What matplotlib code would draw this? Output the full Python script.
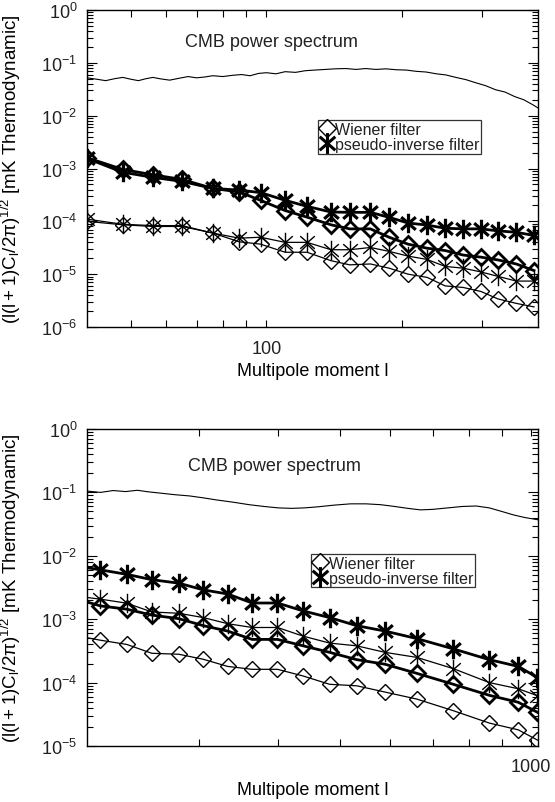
import numpy as np
import matplotlib
matplotlib.use('Agg')
import matplotlib.pyplot as plt
from matplotlib.path import Path
from matplotlib.lines import Line2D
from matplotlib.ticker import FixedLocator, NullFormatter, FuncFormatter, LogLocator

plt.rcParams['font.family'] = ['Liberation Sans', 'DejaVu Sans']
plt.rcParams['mathtext.fontset'] = 'custom'
plt.rcParams['mathtext.rm'] = 'Liberation Sans'
plt.rcParams['mathtext.it'] = 'Liberation Sans'
plt.rcParams['mathtext.bf'] = 'Liberation Sans:bold'
plt.rcParams['text.color'] = '#222222'

# ---- top panel data (multipole l 40..400) ----
l_top = [40, 48, 56, 65, 76, 87, 97, 110, 123, 139, 153, 170, 187, 206, 227, 249, 273, 299, 326, 358, 392]
pinv_thick_top = [1.55e-3, 8.5e-4, 6.8e-4, 5.7e-4, 4.2e-4, 3.9e-4, 3.5e-4, 2.5e-4, 1.92e-4, 1.5e-4, 1.48e-4,
                  1.48e-4, 1.19e-4, 9.3e-5, 8.5e-5, 7.4e-5, 7.2e-5, 7.2e-5, 6.6e-5, 6.2e-5, 5.4e-5]
wiener_thick_top = [1.6e-3, 9.6e-4, 7.6e-4, 6.2e-4, 4.2e-4, 3.6e-4, 2.5e-4, 1.6e-4, 1.2e-4, 8.6e-5, 7.2e-5,
                    7.2e-5, 5.0e-5, 3.7e-5, 3.1e-5, 2.8e-5, 2.3e-5, 2.1e-5, 1.86e-5, 1.56e-5, 1.17e-5]
pinv_thin_top = [1.1e-4, 8.8e-5, 8.3e-5, 8.3e-5, 6.0e-5, 4.8e-5, 5.0e-5, 4.0e-5, 4.0e-5, 2.9e-5, 2.9e-5,
                 3.2e-5, 2.7e-5, 2.2e-5, 1.9e-5, 1.4e-5, 1.3e-5, 1.1e-5, 9.1e-6, 7.4e-6, 7.4e-6]
wiener_thin_top = [1.0e-4, 8.6e-5, 8.0e-5, 8.0e-5, 6.0e-5, 4.1e-5, 3.7e-5, 2.6e-5, 2.6e-5, 1.8e-5, 1.5e-5,
                   1.56e-5, 1.3e-5, 1.0e-5, 8.7e-6, 6.0e-6, 5.6e-6, 4.7e-6, 3.4e-6, 2.8e-6, 2.4e-6]

cmb_l_top = [40, 42, 44, 46, 48, 50, 52, 54, 56, 58, 61, 64, 67, 70, 73, 76, 80, 84, 88, 92, 96, 100, 105, 110,
             116, 122, 128, 135, 142, 150, 158, 166, 175, 184, 194, 204, 215, 226, 238, 250, 263, 277, 291, 306,
             322, 338, 355, 372, 390, 400]
cmb_top = [0.052, 0.049, 0.046, 0.050, 0.053, 0.049, 0.046, 0.050, 0.053, 0.050, 0.047, 0.051, 0.055, 0.052,
           0.054, 0.057, 0.055, 0.058, 0.060, 0.057, 0.063, 0.065, 0.062, 0.068, 0.066, 0.071, 0.073, 0.075,
           0.077, 0.078, 0.075, 0.078, 0.075, 0.077, 0.074, 0.073, 0.069, 0.067, 0.062, 0.059, 0.053, 0.048,
           0.042, 0.037, 0.031, 0.028, 0.023, 0.020, 0.016, 0.014]

# ---- bottom panel data (multipole l 200..1000) ----
l_bot = [200, 210, 231, 253, 279, 305, 333, 364, 399, 438, 482, 532, 589, 661, 755, 860, 955, 1024]
pinv_thick_bot = [6.5e-3, 6.0e-3, 5.1e-3, 4.2e-3, 3.7e-3, 2.9e-3, 2.5e-3, 1.8e-3, 1.8e-3, 1.35e-3, 1.06e-3,
                  7.9e-4, 6.5e-4, 4.95e-4, 3.4e-4, 2.3e-4, 1.8e-4, 1.2e-4]
wiener_thick_bot = [1.87e-3, 1.62e-3, 1.44e-3, 1.16e-3, 1.02e-3, 7.9e-4, 6.5e-4, 4.8e-4, 4.8e-4, 3.8e-4, 3.0e-4,
                    2.3e-4, 1.95e-4, 1.4e-4, 9.4e-5, 6.3e-5, 4.9e-5, 3.4e-5]
pinv_thin_bot = [2.2e-3, 2.07e-3, 1.79e-3, 1.3e-3, 1.24e-3, 1.06e-3, 8.5e-4, 7.4e-4, 7.4e-4, 5.4e-4, 4.2e-4,
                 3.8e-4, 3.0e-4, 2.5e-4, 1.66e-4, 1.0e-4, 8.0e-5, 6.2e-5]
wiener_thin_bot = [5.1e-4, 4.66e-4, 4.0e-4, 2.9e-4, 2.8e-4, 2.33e-4, 1.8e-4, 1.62e-4, 1.62e-4, 1.27e-4, 9.4e-5,
                   8.9e-5, 7.1e-5, 5.5e-5, 3.6e-5, 2.3e-5, 1.8e-5, 1.24e-5]

cmb_l_bot = [200, 210, 220, 230, 240, 250, 262, 275, 290, 305, 320, 340, 360, 380, 400, 420, 440, 460, 490, 520,
             550, 580, 610, 640, 670, 700, 740, 780, 820, 860, 900, 940, 980, 1026]
cmb_bot = [0.105, 0.100, 0.107, 0.103, 0.108, 0.102, 0.097, 0.092, 0.088, 0.082, 0.076, 0.070, 0.064, 0.060,
           0.057, 0.056, 0.057, 0.059, 0.063, 0.066, 0.066, 0.064, 0.060, 0.056, 0.053, 0.054, 0.057, 0.060,
           0.061, 0.057, 0.050, 0.044, 0.040, 0.037]

# asterisk symbol like IDL psym=2
ast = Path([(0, -1), (0, 1), (-0.75, -0.65), (0.75, 0.65), (-0.75, 0.65), (0.75, -0.65)],
           [Path.MOVETO, Path.LINETO] * 3)

fig = plt.figure(figsize=(5.55, 8.03), dpi=100)
ax1 = fig.add_axes([87/555, 1-328/803, 451/555, 317/803])
ax2 = fig.add_axes([87/555, 1-747/803, 451/555, 317/803])

ylab = r'$\mathregular{(l(l+1)C_l/2\pi)^{1/2}}$ [mK Thermodynamic]'


def style(ax, ylim, xlim):
    ax.set_xscale('log')
    ax.set_yscale('log')
    ax.set_xlim(*xlim)
    ax.set_ylim(*ylim)
    ax.yaxis.set_major_locator(LogLocator(base=10, numticks=20))
    ax.yaxis.set_minor_locator(LogLocator(base=10, subs=np.arange(2, 10), numticks=20))
    ax.yaxis.set_major_formatter(FuncFormatter(lambda v, p: r'$\mathregular{10^{%d}}$' % round(np.log10(v))))
    ax.yaxis.set_minor_formatter(NullFormatter())
    ax.xaxis.set_minor_formatter(NullFormatter())
    ax.tick_params(which='both', direction='in', top=True, right=True, colors='black',
                   labelcolor='#222222', labelsize=13)
    ax.tick_params(axis='y', which='major', length=7, width=0.8, pad=7)
    ax.tick_params(axis='y', which='minor', length=4, width=0.8)
    ax.tick_params(axis='x', which='both', length=5, width=0.8, pad=9)
    for s in ax.spines.values():
        s.set_linewidth(1.0)
    ax.set_ylabel(ylab, fontsize=13.5)
    ax.yaxis.set_label_coords(-0.142, 0.5)
    ax.set_xlabel('Multipole moment l', fontsize=13, labelpad=4)


def panel(ax, l, pt, wt, pn, wn, cl, cv, mev):
    ax.plot(cl, cv, color='black', lw=0.8)
    ax.plot(l, pt, color='black', lw=2.0, marker=ast, ms=14, mew=2.3, markevery=mev)
    ax.plot(l, wt, color='black', lw=2.0, marker='D', ms=8.5, mew=2.0, mfc='none', markevery=mev)
    ax.plot(l, pn, color='black', lw=0.9, marker=ast, ms=14, mew=1.0, markevery=mev)
    ax.plot(l, wn, color='black', lw=0.9, marker='D', ms=8.5, mew=1.0, mfc='none', markevery=mev)


style(ax1, (1e-6, 1.0), (40, 400))
ax1.xaxis.set_major_locator(FixedLocator([100]))
ax1.xaxis.set_major_formatter(FuncFormatter(lambda v, p: '100'))
ax1.xaxis.set_minor_locator(FixedLocator([50, 60, 70, 80, 90, 200, 300]))
panel(ax1, l_top, pinv_thick_top, wiener_thick_top, pinv_thin_top, wiener_thin_top,
      cmb_l_top, cmb_top, None)
ax1.text(0.41, 0.9, 'CMB power spectrum', transform=ax1.transAxes, ha='center', va='center', fontsize=13)

style(ax2, (1e-5, 1.0), (200, 1026))
ax2.xaxis.set_major_locator(FixedLocator([1000]))
ax2.xaxis.set_major_formatter(FuncFormatter(lambda v, p: '1000'))
ax2.xaxis.set_minor_locator(FixedLocator([300, 400, 500, 600, 700, 800, 900]))
panel(ax2, l_bot, pinv_thick_bot, wiener_thick_bot, pinv_thin_bot, wiener_thin_bot,
      cmb_l_bot, cmb_bot, slice(1, None))
ax2.text(0.415, 0.885, 'CMB power spectrum', transform=ax2.transAxes, ha='center', va='center', fontsize=13)

handles = [Line2D([], [], ls='none', marker='D', ms=9, mew=1.0, mfc='none', color='black'),
           Line2D([], [], ls='none', marker=ast, ms=15, mew=2.2, color='black')]
labels = ['Wiener filter', 'pseudo-inverse filter']
for ax, anchor in [(ax1, (0.512, 0.652)), (ax2, (0.497, 0.605))]:
    leg = ax.legend(handles, labels, loc='upper left', bbox_to_anchor=anchor, fontsize=11.5,
                    frameon=True, fancybox=False, borderpad=0.1, handlelength=0.9,
                    handletextpad=0.1, labelspacing=0.0, borderaxespad=0)
    leg.get_frame().set_edgecolor('black')
    leg.get_frame().set_linewidth(0.9)

fig.savefig('out.png', dpi=100)
